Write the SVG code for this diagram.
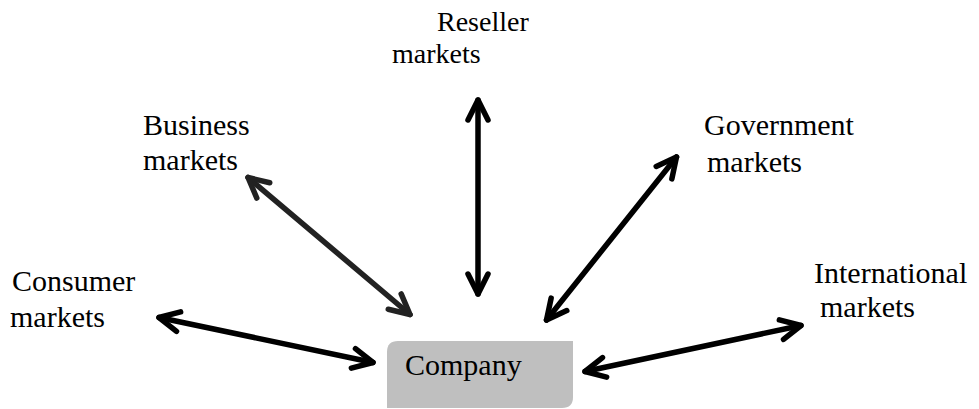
<svg xmlns="http://www.w3.org/2000/svg" width="979" height="409" viewBox="0 0 979 409">
<style>
text{font-family:"Liberation Serif","Times New Roman",serif;font-size:30px;fill:#000}
.c{fill:none;stroke-width:5.5;stroke-linecap:round}
</style>
<defs>
<marker id="ah" viewBox="-26 -14 30 28" markerWidth="30" markerHeight="28" refX="0" refY="0" orient="auto-start-reverse" markerUnits="userSpaceOnUse">
<path d="M-20,-10 L0,0 L-20,10" fill="none" stroke="#000" stroke-width="5.5" stroke-linecap="round" stroke-linejoin="round"/>
</marker>
<marker id="ahg" viewBox="-26 -14 30 28" markerWidth="30" markerHeight="28" refX="0" refY="0" orient="auto-start-reverse" markerUnits="userSpaceOnUse">
<path d="M-20,-10 L0,0 L-20,10" fill="none" stroke="#222" stroke-width="5.5" stroke-linecap="round" stroke-linejoin="round"/>
</marker>
</defs>
<g id="connectors">
<line class="c" stroke="#000" x1="159" y1="317.5" x2="373" y2="362.5" marker-start="url(#ah)" marker-end="url(#ah)"/>
<line class="c" stroke="#222" x1="248" y1="177.5" x2="410" y2="314.5" marker-start="url(#ahg)" marker-end="url(#ahg)"/>
<line class="c" stroke="#000" x1="478" y1="100" x2="478" y2="294" marker-start="url(#ah)" marker-end="url(#ah)"/>
<line class="c" stroke="#000" x1="676.5" y1="157" x2="546.5" y2="320" marker-start="url(#ah)" marker-end="url(#ah)"/>
<line class="c" stroke="#000" x1="801" y1="325.5" x2="585" y2="371.5" marker-start="url(#ah)" marker-end="url(#ah)"/>
</g>
<g id="company">
<path d="M387,352 Q387,341 398,341 L573,341 L573,397 Q573,408 562,408 L387,408 Z" fill="#bfbfbf"/>
<text x="405" y="375">Company</text>
</g>
<g id="reseller">
<text x="437" y="31" style="font-size:28px">Reseller</text>
<text x="392" y="63" style="font-size:28px">markets</text>
</g>
<g id="business">
<text x="143" y="135">Business</text>
<text x="143" y="170">markets</text>
</g>
<g id="government">
<text x="704" y="135">Government</text>
<text x="707" y="172">markets</text>
</g>
<g id="international">
<text x="814" y="283">International</text>
<text x="820" y="317">markets</text>
</g>
<g id="consumer">
<text x="12" y="291">Consumer</text>
<text x="10" y="327">markets</text>
</g>
</svg>
